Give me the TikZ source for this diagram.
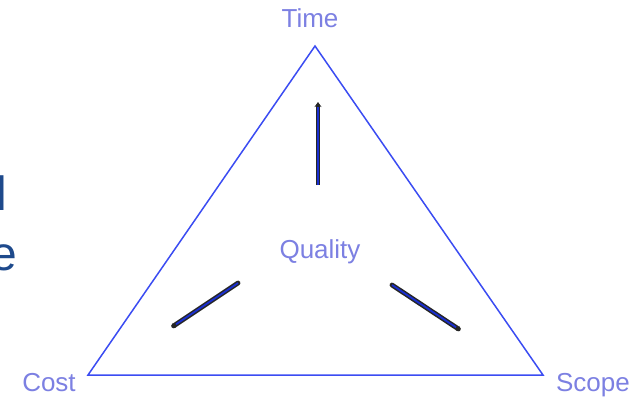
\documentclass[tikz,border=0pt]{standalone}
\usepackage{fontspec}
\setmainfont{Liberation Sans}
\usetikzlibrary{arrows.meta}
\definecolor{tri}{HTML}{3B4CF2}
\definecolor{lab}{HTML}{7C80E2}
\definecolor{slide}{HTML}{1E4A8C}
\definecolor{arrin}{HTML}{1A2FD0}
\tikzset{
  label/.style={text=lab, font=\fontsize{26}{30}\selectfont, inner sep=0pt},
  cut/.style={text=slide, font=\fontsize{48}{56}\selectfont, inner sep=0pt, anchor=base west},
  side/.style={draw=tri, line width=1.5pt},
  arrout/.style={draw=black!85, line width=4.8pt, -{Stealth[length=5pt,width=7pt]}},
  arrout2/.style={draw=black!85, line width=4.8pt, line cap=round, -{Stealth[length=3pt,width=6pt]}},
  arrin/.style={draw=arrin, line width=1.8pt},
}
\begin{document}
\begin{tikzpicture}[x=1pt,y=-1pt]
\useasboundingbox (0,0) rectangle (639,400);
% cut-off slide text
\node[cut] (l1) at (-3.7,210) {l};
\node[cut] (l2) at (-9.7,270) {e};
% triangle
\coordinate (T) at (315,46);
\coordinate (L) at (88,375);
\coordinate (R) at (543,375);
\draw[side] (T) -- (L) -- (R) -- cycle;
% labels
\node[label] (time) at (310,18) {Time};
\node[label] (cost) at (49,383) {Cost};
\node[label] (scope) at (593,385) {Scope};
\node[label] (quality) at (320,252) {Quality};
% arrows
\coordinate (a1s) at (318,185);
\coordinate (a1e) at (318,102);
\coordinate (a1m) at (318,107);
\coordinate (a2s) at (238,283);
\coordinate (a2e) at (172,327);
\coordinate (a2m) at (176,324.3);
\coordinate (a3s) at (392,285);
\coordinate (a3e) at (460,330);
\coordinate (a3m) at (456,327.3);
\draw[arrout] (a1s) -- (a1e);
\draw[arrin] (a1s) -- (a1m);
\draw[arrout2] (a2s) -- (a2e);
\draw[arrin] (a2s) -- (a2m);
\draw[arrout2] (a3s) -- (a3e);
\draw[arrin] (a3s) -- (a3m);
\end{tikzpicture}
\end{document}
